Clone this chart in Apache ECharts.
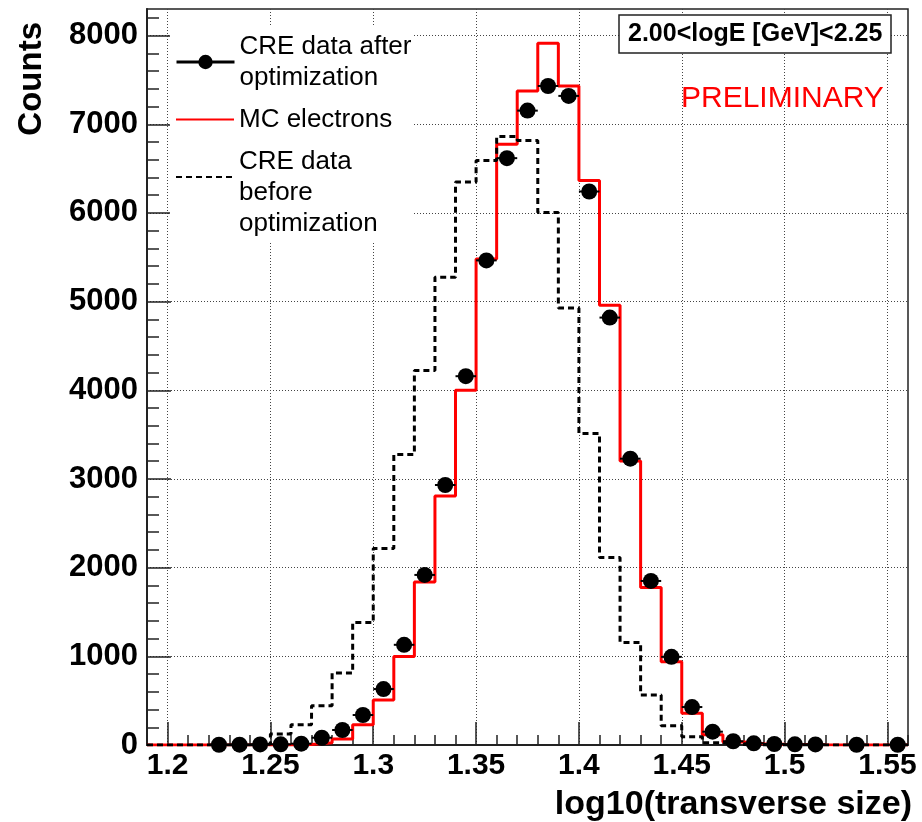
<!DOCTYPE html>
<html>
<head>
<meta charset="utf-8">
<script src="https://cdn.jsdelivr.net/npm/echarts@6/dist/echarts.min.js"></script>
<style>html,body{margin:0;padding:0;background:#fff}#c{width:922px;height:822px}</style>
</head>
<body>
<div id="c"></div>
<script>
// ---- data ----
const binLowEdges = [1.19,1.20,1.21,1.22,1.23,1.24,1.25,1.26,1.27,1.28,1.29,1.30,1.31,1.32,1.33,1.34,1.35,1.36,1.37,1.38,1.39,1.40,1.41,1.42,1.43,1.44,1.45,1.46,1.47,1.48,1.49,1.50,1.51,1.52,1.53,1.54,1.55];
const lastBinHighEdge = 1.56;
const binHalfWidth = 0.005;
const mcElectrons = [0,0,0,0,0,0,0,5,25,68,228,507,999,1839,2807,4001,5481,6776,7376,7913,7432,6366,4960,3202,1776,938,357,115,35,15,8,5,2,0,0,0,0];
const creBefore = [0,0,0,0,0,10,125,228,444,811,1382,2215,3277,4223,5274,6348,6591,6862,6817,6006,4929,3514,2114,1157,563,217,93,25,5,0,0,0,0,0,0,0,0];
const pointX = [1.225,1.235,1.245,1.255,1.265,1.275,1.285,1.295,1.305,1.315,1.325,1.335,1.345,1.355,1.365,1.375,1.385,1.395,1.405,1.415,1.425,1.435,1.445,1.455,1.465,1.475,1.485,1.495,1.505,1.515,1.525,1.535,1.545,1.555];
const creAfter = [3,4,6,8,15,82,169,338,631,1130,1918,2932,4159,5465,6618,7154,7432,7320,6242,4820,3229,1850,994,428,150,42,19,11,8,6,null,3,null,3];
const xTickValues = [1.2,1.25,1.3,1.35,1.4,1.45,1.5,1.55];
const yTickValues = [0,1000,2000,3000,4000,5000,6000,7000,8000];
const yMinorTickValues = [200,400,600,800,1200,1400,1600,1800,2200,2400,2600,2800,3200,3400,3600,3800,4200,4400,4600,4800,5200,5400,5600,5800,6200,6400,6600,6800,7200,7400,7600,7800,8200];

const NAME_AFTER = 'CRE data after optimization';
const NAME_MC = 'MC electrons';
const NAME_BEFORE = 'CRE data before optimization';

function stepData(values) {
  const d = binLowEdges.map((e, i) => [e, values[i]]);
  d.push([lastBinHighEdge, values[values.length - 1]]);
  return d;
}

const FONT = '"Liberation Sans", Arial, Helvetica, sans-serif';
const chart = echarts.init(document.getElementById('c'), null, {renderer: 'canvas'});

const legendCommon = {
  orient: 'vertical', padding: 0, itemGap: 0, itemWidth: 58, itemHeight: 18,
  selectedMode: false, z: 6,
  textStyle: {fontSize: 26, lineHeight: 31, color: '#000', fontFamily: FONT}
};

chart.setOption({
  animation: false,
  backgroundColor: '#fff',
  textStyle: {fontFamily: FONT},
  grid: {left: 147, right: 14, top: 9, bottom: 77, show: true, borderColor: '#222', borderWidth: 1.5, backgroundColor: 'transparent'},
  title: [
    {text: '2.00<logE [GeV]<2.25', left: 619, top: 15, padding: [6, 9, 6, 9],
     borderColor: '#222', borderWidth: 1.5, backgroundColor: '#fff',
     textStyle: {fontSize: 25, fontWeight: 'bold', color: '#000', lineHeight: 26, fontFamily: FONT}},
    {text: 'PRELIMINARY', left: 681, top: 84, padding: 0,
     textStyle: {fontSize: 30, fontWeight: 'normal', color: '#ff0000', fontFamily: FONT}}
  ],
  graphic: [
    {type: 'rect', shape: {x: 170, y: 27, width: 243, height: 215}, style: {fill: '#fff'}, z: 3, silent: true}
  ],
  legend: [
    Object.assign({}, legendCommon, {
      data: [NAME_AFTER], left: 175, top: 31,
      formatter: () => 'CRE data after\noptimization',
      lineStyle: {color: '#000', width: 3, opacity: 1, type: 'solid'}
    }),
    Object.assign({}, legendCommon, {
      data: [NAME_MC], left: 175, top: 104,
      itemStyle: {opacity: 0}
    }),
    Object.assign({}, legendCommon, {
      data: [NAME_BEFORE], left: 175, top: 115,
      formatter: () => '\nCRE data\nbefore\noptimization',
      itemStyle: {opacity: 0}
    })
  ],
  xAxis: [
    {
      type: 'value', min: 1.19, max: 1.56, position: 'bottom',
      name: 'log10(transverse size)', nameLocation: 'end', nameGap: 4,
      nameTextStyle: {fontSize: 34, fontWeight: 'bold', color: '#000', align: 'right', verticalAlign: 'top', padding: [43, 0, 0, 0], fontFamily: FONT},
      axisLine: {show: true, onZero: false, lineStyle: {color: '#222', width: 2}},
      axisTick: {show: true, inside: true, length: 23, customValues: xTickValues, lineStyle: {color: '#222', width: 1.5}},
      axisLabel: {show: true, customValues: xTickValues, margin: 6, fontSize: 30, fontWeight: 'bold', color: '#000', fontFamily: FONT,
                  formatter: v => String(v)},
      splitLine: {show: true, lineStyle: {color: '#444', width: 1, type: [1, 2]}}
    },
    {
      type: 'value', min: 1.19, max: 1.56, interval: 0.01, position: 'bottom',
      axisLine: {show: false},
      axisTick: {show: true, inside: true, length: 10, lineStyle: {color: '#222', width: 1.5}},
      axisLabel: {show: false},
      splitLine: {show: false}
    }
  ],
  yAxis: [
    {
      type: 'value', min: 0, max: 8300, position: 'left',
      name: 'Counts', nameLocation: 'end', nameRotate: 90, nameGap: -13,
      nameTextStyle: {fontSize: 33, fontWeight: 'bold', color: '#000', align: 'right', verticalAlign: 'bottom', padding: [0, 0, 99, 0], fontFamily: FONT},
      axisLine: {show: true, onZero: false, lineStyle: {color: '#222', width: 2}},
      axisTick: {show: true, inside: true, length: 24, customValues: yTickValues, lineStyle: {color: '#222', width: 1.5}},
      axisLabel: {show: true, customValues: yTickValues, margin: 9, fontSize: 31, fontWeight: 'bold', color: '#000', fontFamily: FONT,
                  formatter: v => String(v)},
      splitLine: {show: true, lineStyle: {color: '#444', width: 1, type: [1, 2]}}
    },
    {
      type: 'value', min: 0, max: 8300, position: 'left',
      axisLine: {show: false},
      axisTick: {show: true, inside: true, length: 12, customValues: yMinorTickValues, lineStyle: {color: '#222', width: 1.5}},
      axisLabel: {show: false},
      splitLine: {show: false}
    }
  ],
  series: [
    {
      name: NAME_MC, type: 'line', step: 'end', xAxisIndex: 0, yAxisIndex: 0,
      data: stepData(mcElectrons), symbol: 'none', z: 2,
      lineStyle: {color: '#ff0000', width: 3}, itemStyle: {color: '#ff0000'}
    },
    {
      name: NAME_BEFORE, type: 'line', step: 'end', xAxisIndex: 0, yAxisIndex: 0,
      data: stepData(creBefore), symbol: 'none', z: 2,
      lineStyle: {color: '#000', width: 3, type: [6, 4]}, itemStyle: {color: '#000'}
    },
    {
      name: 'x errors', type: 'custom', xAxisIndex: 0, yAxisIndex: 0, silent: true, z: 3,
      data: pointX.map((x, i) => [x, creAfter[i]]).filter(d => d[1] != null),
      renderItem: function (params, api) {
        const x = api.value(0), y = api.value(1);
        const p1 = api.coord([x - binHalfWidth, y]);
        const p2 = api.coord([x + binHalfWidth, y]);
        return {type: 'line', shape: {x1: p1[0], y1: p1[1], x2: p2[0], y2: p2[1]}, style: {stroke: '#000', lineWidth: 2}};
      }
    },
    {
      name: NAME_AFTER, type: 'line', xAxisIndex: 0, yAxisIndex: 0, z: 4,
      data: pointX.map((x, i) => [x, creAfter[i]]),
      symbol: 'circle', symbolSize: 16, showSymbol: true, showAllSymbol: true, connectNulls: false,
      lineStyle: {opacity: 0, width: 0}, itemStyle: {color: '#000'}
    }
  ]
});
</script>
</body>
</html>
